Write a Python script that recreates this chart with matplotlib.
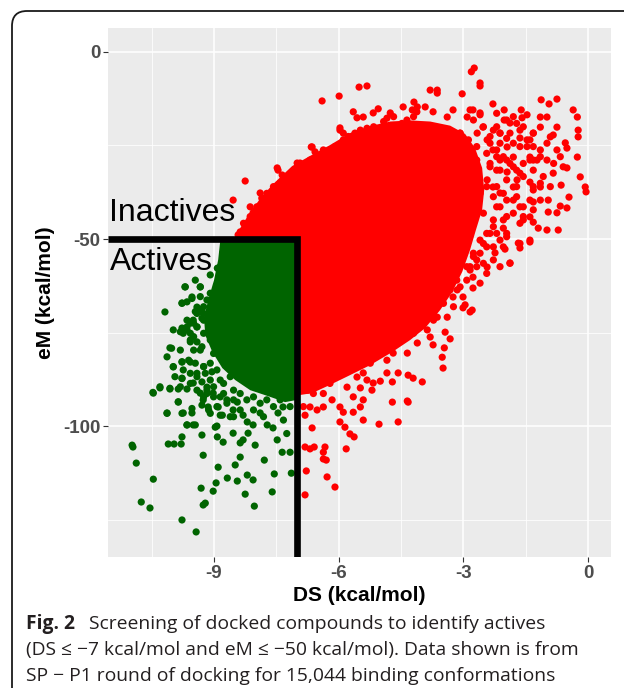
import numpy as np
import matplotlib
matplotlib.use("Agg")
import matplotlib.pyplot as plt
from matplotlib.path import Path
from matplotlib.patches import PathPatch

# cutoffs used to split actives / inactives
ds_cut = -7
em_cut = -50

# dense core of the inactive cloud (DS, eM)
red_core = [(-8.47, -49.7), (-8.37, -47.1), (-8.13, -42.8), (-7.84, -38.5), (-7.53, -34.8),
            (-7.12, -30.5), (-6.69, -27.8), (-6.21, -24.9), (-5.73, -21.7), (-5.24, -19.8),
            (-4.76, -18.6), (-4.28, -18.3), (-3.80, -18.6), (-3.32, -19.7), (-2.96, -21.9),
            (-2.72, -25.7), (-2.55, -31.0), (-2.50, -36.9), (-2.55, -42.2), (-2.70, -47.6),
            (-2.84, -52.9), (-3.03, -58.8), (-3.27, -64.2), (-3.56, -69.0), (-3.92, -73.8),
            (-4.28, -77.0), (-4.71, -80.2), (-5.24, -83.7), (-5.73, -86.4), (-6.21, -89.0),
            (-6.64, -91.2), (-6.93, -91.7), (-6.93, -49.7)]

# dense core of the active cloud
green_core = [(-8.85, -50.5), (-7.0, -50.5), (-7.0, -93.0), (-7.29, -93.6), (-7.70, -92.0),
              (-8.13, -90.4), (-8.49, -87.7), (-8.80, -84.5), (-9.04, -80.2), (-9.21, -75.7),
              (-9.24, -71.1), (-9.14, -66.3), (-9.00, -61.0), (-8.90, -55.6)]

# scattered inactive conformations around the core
red_pts = [(-2.74, -4.3), (-2.81, -5.3), (-2.60, -8.3), (-2.60, -9.1), (-5.51, -9.4), (-5.32, -9.1),
           (-6.40, -13.1), (-5.99, -11.8), (-3.80, -10.2), (-3.63, -10.2), (-3.63, -11.0), (-3.03, -11.2),
           (-2.29, -13.9), (-2.02, -15.5), (-1.61, -15.5), (-1.13, -12.8), (-0.94, -13.9), (-0.75, -12.6),
           (-0.36, -15.5), (-0.26, -17.4), (-1.15, -17.4), (-0.99, -17.4), (-1.47, -16.8), (-1.59, -17.6),
           (-1.88, -19.0), (-2.02, -18.2), (-0.75, -20.1), (-0.24, -20.9), (-0.24, -22.7), (-1.15, -20.1),
           (-0.91, -22.7), (-0.84, -22.2), (-1.32, -21.7), (-1.40, -23.5), (-1.64, -23.0), (-0.55, -24.3),
           (-0.51, -25.7), (-0.26, -28.1), (-0.75, -26.2), (-0.99, -28.9), (-1.32, -28.9), (-1.40, -28.1),
           (-0.84, -32.4), (-0.60, -30.7), (-0.51, -31.0), (-0.19, -33.4), (-0.07, -36.1), (-0.05, -37.4),
           (-0.46, -38.8), (-0.65, -35.6), (-1.15, -36.1), (-0.96, -39.6), (-0.67, -41.2), (-0.51, -41.7),
           (-0.75, -43.0), (-0.96, -42.8), (-1.32, -40.1), (-1.40, -44.1), (-1.32, -45.5), (-1.56, -44.9),
           (-0.99, -47.6), (-0.72, -47.6), (-1.20, -47.1), (-1.40, -50.8), (-1.64, -52.4), (-1.88, -56.4),
           (-1.68, -51.1), (-2.00, -52.7), (-2.12, -50.3), (-2.24, -53.7), (-2.43, -57.5), (-2.77, -60.2),
           (-2.60, -61.8), (-3.01, -65.5), (-2.12, -37.7), (-1.80, -36.1), (-1.71, -34.2), (-1.40, -34.8),
           (-1.95, -32.1), (-2.29, -36.1), (-2.43, -34.2), (-2.12, -28.9), (-1.80, -28.1), (-2.29, -26.2),
           (-2.43, -23.5), (-1.95, -25.4), (-2.12, -21.7), (-2.53, -20.1), (-2.67, -21.7), (-2.91, -17.4),
           (-2.77, -15.5), (-2.60, -16.3), (-3.25, -15.5), (-3.39, -17.4), (-3.73, -16.0), (-4.11, -14.7),
           (-3.92, -14.7), (-4.45, -14.7), (-5.05, -15.2), (-5.17, -16.3), (-5.65, -16.0), (-5.41, -17.4),
           (-4.76, -16.3), (-5.97, -20.3), (-5.89, -21.7), (-6.64, -25.4), (-6.57, -26.7), (-6.28, -27.0),
           (-6.93, -29.7), (-8.25, -34.5), (-8.54, -39.6), (-7.46, -31.6), (-7.36, -32.9), (-7.24, -33.4),
           (-6.66, -25.4), (-7.00, -29.7), (-7.89, -37.7), (-8.13, -41.4), (-8.06, -43.0), (-8.20, -46.8),
           (-8.37, -48.1), (-7.82, -40.4), (-7.58, -36.9), (-5.56, -17.6), (-5.97, -20.9), (-4.19, -13.4),
           (-4.23, -15.5), (-7.48, -31.0),
           (-2.84, -69.5), (-3.01, -68.4), (-3.32, -76.7), (-3.44, -74.9), (-3.46, -79.1), (-3.49, -84.5),
           (-3.51, -81.6), (-3.73, -78.3), (-3.80, -76.2), (-3.99, -88.2), (-4.21, -87.2), (-4.33, -86.4),
           (-4.57, -85.8), (-4.71, -88.2), (-4.35, -93.3), (-4.71, -93.6), (-4.57, -98.9), (-5.03, -99.5),
           (-5.41, -98.4), (-5.63, -102.9), (-5.73, -102.1), (-5.82, -106.1), (-5.85, -100.3), (-5.97, -98.9),
           (-6.09, -116.3), (-6.28, -113.6), (-6.30, -109.1), (-6.37, -108.8), (-6.33, -105.6), (-6.37, -107.0),
           (-6.59, -105.6), (-6.81, -105.6), (-6.69, -106.1), (-6.78, -112.0), (-6.81, -118.4), (-5.41, -93.0),
           (-5.65, -92.2), (-5.20, -90.4), (-5.00, -88.0), (-5.32, -87.7), (-4.84, -85.8), (-5.48, -89.8),
           (-6.64, -100.5), (-4.33, -93.6), (-2.79, -69.0), (-2.96, -67.6), (-2.77, -63.1), (-3.25, -65.5),
           (-3.15, -63.6), (-3.39, -70.9), (-3.63, -70.9), (-3.87, -74.3), (-4.11, -77.8), (-4.35, -80.5),
           (-5.17, -88.5), (-5.48, -94.9), (-5.65, -96.3), (-5.89, -96.3), (-5.97, -94.9), (-6.16, -93.0),
           (-6.37, -94.9), (-6.52, -95.7), (-6.69, -94.9), (-5.80, -89.6), (-5.56, -86.9), (-5.24, -83.2),
           (-4.84, -82.4), (-4.69, -80.5), (-5.41, -85.8), (-6.86, -87.7), (-6.74, -90.4), (-6.81, -97.1),
           # edge band, upper left
           (-8.29, -45.8), (-8.13, -44.0), (-7.97, -41.4), (-7.85, -39.1), (-7.73, -37.8), (-7.57, -36.0),
           (-7.41, -35.1), (-7.25, -34.2), (-7.13, -32.9), (-7.01, -31.6), (-6.85, -30.2), (-6.69, -28.9),
           (-6.53, -27.5), (-6.37, -26.2), (-6.21, -26.2), (-6.09, -25.3), (-5.89, -23.5), (-5.77, -22.6),
           (-5.61, -21.7), (-5.48, -20.9), (-5.32, -20.4), (-5.16, -20.0), (-4.92, -18.6), (-4.84, -17.7),
           (-4.68, -17.3), (-4.48, -19.1), (-4.36, -18.2), (-4.20, -17.3), (-4.12, -16.0), (-4.16, -20.9),
           (-8.42, -48.9), (-8.25, -46.3), (-8.01, -43.6), (-7.77, -40.9), (-7.65, -38.2), (-7.34, -35.6),
           # edge band, right side
           (-3.08, -21.7), (-2.88, -23.5), (-2.68, -25.3), (-2.44, -27.1), (-2.20, -28.0), (-1.96, -28.9),
           (-2.36, -30.7), (-2.12, -31.6), (-1.80, -30.7), (-1.56, -29.8), (-1.64, -32.4), (-1.32, -31.6),
           (-1.15, -28.0), (-1.47, -25.3), (-1.80, -24.4), (-2.12, -24.4), (-2.36, -22.6), (-2.20, -20.0),
           (-1.88, -21.7), (-1.64, -20.9), (-1.80, -17.3), (-2.44, -36.0), (-2.28, -38.7), (-2.12, -41.4),
           (-1.96, -39.6), (-1.72, -38.7), (-1.56, -41.4), (-1.80, -43.1), (-2.04, -44.9), (-2.28, -46.7),
           (-2.44, -48.5), (-2.20, -48.5), (-1.96, -48.5), (-2.52, -43.1), (-2.60, -50.3), (-2.76, -53.8),
           (-2.44, -52.1), (-2.92, -57.4), (-3.16, -61.0), (-3.32, -63.6), (-2.28, -55.6), (-2.12, -57.4),
           (-1.32, -36.0), (-1.15, -39.6), (-1.08, -33.3), (-0.91, -36.0), (-0.83, -29.8), (-0.67, -28.0),
           (-1.32, -25.3), (-0.99, -24.4),
           (-2.84, -15.5), (-2.60, -16.8), (-2.76, -18.2), (-2.52, -20.0), (-2.28, -20.9), (-2.12, -21.7),
           (-1.96, -23.1), (-2.36, -24.4), (-2.20, -26.2), (-2.04, -28.0), (-1.88, -29.8), (-2.36, -29.8),
           (-2.20, -31.6), (-1.72, -31.6), (-1.56, -33.3), (-1.96, -34.2), (-1.72, -36.0), (-2.20, -36.0),
           (-2.04, -37.8), (-1.80, -39.6), (-1.64, -41.4), (-2.20, -41.4), (-1.96, -44.0), (-2.28, -44.9),
           (-2.04, -47.1), (-2.36, -48.5), (-2.52, -51.2), (-2.28, -52.1), (-2.76, -54.7), (-2.52, -56.5),
           (-2.84, -58.3), (-1.40, -28.9), (-1.23, -28.9), (-1.47, -23.5), (-1.32, -21.7), (-1.64, -25.3),
           (-1.15, -26.2), (-1.72, -19.1), (-1.56, -20.0), (-1.96, -18.2), (-2.20, -16.4), (-1.32, -36.9),
           (-1.15, -35.1), (-1.40, -39.6), (-1.56, -44.0), (-1.64, -45.8), (-1.32, -42.2), (-1.96, -49.4),
           (-2.04, -52.1), (-2.60, -53.8), (-2.68, -57.4), (-2.44, -59.2), (-1.88, -56.5), (-1.64, -51.2),
           (-1.40, -50.3), (-3.08, -21.7), (-2.92, -26.2), (-2.68, -28.9), (-2.76, -33.3), (-2.60, -37.8),
           (-2.68, -42.2), (-2.84, -46.7), (-3.00, -50.3),
           # edge band, lower side
           (-6.77, -84.1), (-6.61, -83.2), (-6.45, -82.4), (-6.29, -84.1), (-6.05, -82.4), (-5.80, -81.5),
           (-5.56, -80.6), (-5.32, -79.7), (-5.08, -77.9), (-4.84, -76.1), (-4.60, -74.3), (-4.44, -72.5),
           (-4.20, -71.7), (-4.04, -69.9), (-3.88, -68.1), (-3.72, -66.3), (-3.56, -64.5), (-3.40, -62.8),
           (-3.32, -60.1), (-3.16, -58.3), (-3.08, -55.6), (-3.00, -53.8), (-2.92, -51.2), (-6.69, -86.8),
           (-6.53, -87.7), (-6.37, -86.8), (-6.21, -88.6), (-6.05, -86.8), (-5.89, -85.9), (-5.73, -84.1),
           (-5.48, -83.2), (-5.16, -81.5), (-4.92, -79.7), (-4.68, -77.9), (-4.44, -76.1), (-4.20, -75.2),
           (-3.96, -72.5), (-3.72, -71.7), (-3.64, -68.1), (-3.48, -67.2), (-3.24, -68.1), (-3.08, -62.8),
           (-2.92, -61.0), (-2.84, -57.4), (-2.68, -55.6), (-6.81, -90.4), (-6.85, -94.8), (-6.61, -91.3),
           (-6.37, -91.3)]

# scattered active conformations
green_pts = [(-10.18, -69.5), (-9.98, -74.3), (-9.77, -73.8), (-10.06, -79.1), (-9.81, -79.7), (-9.57, -77.0),
             (-9.41, -77.5), (-9.98, -84.2), (-9.77, -82.9), (-9.57, -82.9), (-9.77, -87.2), (-9.50, -88.5),
             (-9.29, -88.2), (-10.46, -91.2), (-10.30, -89.8), (-10.06, -90.1), (-9.86, -90.1), (-9.65, -90.1),
             (-9.86, -93.6), (-10.13, -96.5), (-9.74, -96.5), (-9.53, -96.5), (-9.26, -93.0), (-9.02, -91.2),
             (-9.14, -94.9), (-8.90, -94.9), (-8.80, -97.1), (-8.54, -95.7), (-8.44, -93.6), (-8.30, -97.1),
             (-8.20, -98.9), (-8.06, -99.7), (-7.89, -96.5), (-7.72, -99.7), (-7.58, -100.5), (-7.46, -96.5),
             (-7.34, -94.9), (-9.65, -99.7), (-9.50, -99.7), (-9.29, -102.4), (-8.97, -100.3), (-8.92, -102.9),
             (-8.78, -104.3), (-8.54, -101.9), (-8.37, -104.5), (-8.18, -101.9), (-8.01, -105.1), (-7.48, -103.7),
             (-7.36, -107.0), (-7.17, -107.0), (-10.97, -105.1), (-10.95, -105.6), (-10.87, -109.9),
             (-10.46, -114.2), (-10.75, -120.3), (-10.54, -121.9), (-10.10, -104.8), (-9.96, -104.8),
             (-9.79, -104.8), (-9.77, -102.9), (-9.26, -107.8), (-8.90, -111.0), (-8.68, -113.9), (-8.49, -110.4),
             (-8.37, -108.3), (-8.20, -113.1), (-8.06, -114.4), (-8.44, -114.7), (-8.95, -115.2), (-9.31, -116.6),
             (-9.02, -117.4), (-9.21, -120.6), (-9.26, -121.1), (-8.25, -118.2), (-8.03, -121.4), (-7.79, -109.1),
             (-7.60, -117.6), (-7.55, -112.8), (-7.14, -112.6), (-9.77, -125.1), (-9.43, -128.3), (-8.30, -103.7),
             (-9.33, -91.2), (-9.17, -89.6), (-8.73, -52.1), (-8.78, -53.5), (-8.66, -56.4), (-8.92, -57.8),
             (-9.09, -59.6), (-9.45, -61.0), (-9.70, -62.8), (-9.33, -62.8), (-9.53, -65.5), (-9.65, -66.8),
             (-9.77, -67.1), (-9.41, -68.2), (-9.26, -69.8), (-9.09, -69.0), (-9.50, -71.7), (-9.65, -73.5),
             # edge band
             (-8.85, -60.1), (-8.93, -62.8), (-9.09, -64.5), (-9.17, -66.3), (-9.01, -67.2), (-9.33, -65.4),
             (-9.25, -68.1), (-9.41, -69.9), (-9.25, -71.7), (-9.09, -70.8), (-9.57, -72.5), (-9.41, -73.5),
             (-9.74, -75.2), (-9.49, -76.1), (-9.25, -75.2), (-9.01, -74.3), (-8.77, -54.7), (-8.85, -57.4),
             (-9.33, -69.0), (-9.17, -71.7), (-9.41, -73.5), (-9.09, -77.0), (-9.33, -79.7), (-9.01, -80.6),
             (-9.25, -84.1), (-8.93, -85.0), (-9.09, -87.7), (-8.77, -88.6), (-8.61, -86.8), (-8.53, -90.4),
             (-8.37, -91.3), (-8.21, -93.0), (-8.05, -92.2), (-7.89, -93.9), (-7.73, -93.0), (-7.57, -94.8),
             (-7.41, -93.0), (-7.25, -92.2), (-7.17, -94.8), (-9.65, -71.7), (-9.57, -75.2), (-9.74, -85.0),
             (-9.41, -85.9), (-9.17, -91.3), (-8.85, -92.2), (-8.69, -93.0), (-8.53, -97.5), (-8.05, -95.7),
             (-7.81, -97.5), (-7.33, -98.4), (-7.25, -102.0),
             (-9.69, -62.8), (-9.33, -62.8), (-9.53, -65.9), (-9.77, -67.2), (-9.45, -69.4), (-9.29, -71.2),
             (-9.49, -72.5), (-9.81, -74.8), (-9.65, -74.3), (-9.57, -77.5), (-10.02, -79.2), (-9.49, -79.7),
             (-9.29, -78.8), (-10.13, -81.5), (-9.77, -82.8), (-9.61, -82.4), (-9.45, -83.2), (-9.25, -84.1),
             (-9.98, -84.1), (-9.09, -83.2), (-9.94, -86.8), (-9.77, -87.3), (-9.57, -85.9), (-9.41, -86.8),
             (-9.21, -85.9), (-9.05, -85.5), (-10.30, -89.5), (-10.47, -91.0), (-10.06, -89.9), (-9.81, -89.5),
             (-9.57, -88.6), (-9.41, -90.4), (-9.17, -90.4), (-9.01, -89.5), (-8.85, -87.7), (-9.25, -92.2),
             (-9.01, -92.2), (-8.77, -91.3), (-9.86, -93.5), (-9.53, -95.3), (-9.29, -94.4), (-9.13, -95.7),
             (-8.93, -94.8), (-8.69, -93.9), (-8.53, -93.0), (-8.37, -95.7), (-10.13, -96.6), (-9.77, -96.6),
             (-8.85, -97.1), (-8.61, -97.5), (-9.65, -99.7), (-9.45, -99.7), (-8.93, -100.0), (-9.09, -96.6)]

x_ticks = [-9, -6, -3, 0]
y_ticks = [0, -50, -100]

red = "#FF0000"
green = "#006400"
dot = 27

fig = plt.figure(figsize=(6.24, 6.93), dpi=100)
ax = fig.add_axes([108 / 624, 1 - 557 / 693, 503 / 624, 529 / 693])
ax.set_facecolor("#EBEBEB")
for s in ax.spines.values():
    s.set_visible(False)

# red cloud
rx, ry = zip(*red_core)
ax.fill(rx, ry, color=red, lw=0, zorder=2)
rx, ry = zip(*red_pts)
ax.scatter(rx, ry, s=dot, color=red, edgecolors="none", zorder=2)

# green cloud
gx, gy = zip(*green_core)
ax.fill(gx, gy, color=green, lw=0, zorder=3)
gx, gy = zip(*green_pts)
ax.scatter(gx, gy, s=dot, color=green, edgecolors="none", zorder=3)

ax.set_xlim(-11.55, 0.55)
ax.set_ylim(-135.0, 6.4)

# cutoff box
x0 = ax.get_xlim()[0]
y0 = ax.get_ylim()[0]
ax.plot([x0, ds_cut, ds_cut], [em_cut, em_cut, y0], color="black", lw=4.8,
        solid_joinstyle="miter", solid_capstyle="butt", zorder=5)

ax.text(x0 + 0.02, -45.1, "Inactives", fontsize=23, family="Liberation Sans",
        va="baseline", ha="left", zorder=6)
ax.text(x0 + 0.05, -58.3, "Actives", fontsize=23, family="Liberation Sans",
        va="baseline", ha="left", zorder=6)

# ggplot-like grid
ax.set_xticks(x_ticks)
ax.set_yticks(y_ticks)
ax.set_xticks([-10.5, -7.5, -4.5, -1.5], minor=True)
ax.set_yticks([-25, -75, -125], minor=True)
ax.grid(which="major", color="white", lw=1.1)
ax.grid(which="minor", color="white", lw=0.55)
ax.set_axisbelow(True)
ax.tick_params(which="minor", length=0)
ax.tick_params(which="major", length=3.5, width=0.8, color="#333333", pad=2,
               labelsize=13.5, labelcolor="#4D4D4D")
ax.set_xticklabels([str(v) for v in x_ticks], fontweight="bold", family="Liberation Sans")
ax.set_yticklabels([str(v) for v in y_ticks], fontweight="bold", family="Liberation Sans")

ax.set_xlabel("DS (kcal/mol)", fontsize=15, fontweight="bold", family="Liberation Sans", labelpad=3)
ax.set_ylabel("eM (kcal/mol)", fontsize=15, fontweight="bold", family="Liberation Sans", labelpad=6)

# rounded frame around the figure (cut by the right/bottom edges)
W, H = 624, 693
verts = [(12, 688), (12, 26), (12, 11), (27, 11), (640, 11)]
codes = [Path.MOVETO, Path.LINETO, Path.CURVE3, Path.CURVE3, Path.LINETO]
frame = Path([(x / W, 1 - y / H) for x, y in verts], codes)
fig.add_artist(PathPatch(frame, transform=fig.transFigure, fill=False, lw=1.3, edgecolor="#1A1A1A"))

# caption
cap_font = ["Open Sans", "DejaVu Sans"]
cap_size = 13.9
fig.text(26 / W, 1 - 629 / H, "Fig. 2", fontsize=cap_size, fontweight="bold", family=cap_font,
         color="#231F20", va="baseline")
fig.text(89 / W, 1 - 629 / H, "Screening of docked compounds to identify actives", fontsize=cap_size,
         family=cap_font, color="#231F20", va="baseline")
fig.text(26 / W, 1 - 655 / H, "(DS \u2264 \u22127 kcal/mol and eM \u2264 \u221250 kcal/mol). Data shown is from",
         fontsize=cap_size, family=cap_font, color="#231F20", va="baseline")
fig.text(26 / W, 1 - 681 / H, "SP \u2212 P1 round of docking for 15,044 binding conformations",
         fontsize=cap_size, family=cap_font, color="#231F20", va="baseline")

fig.savefig("out.png", dpi=100)
